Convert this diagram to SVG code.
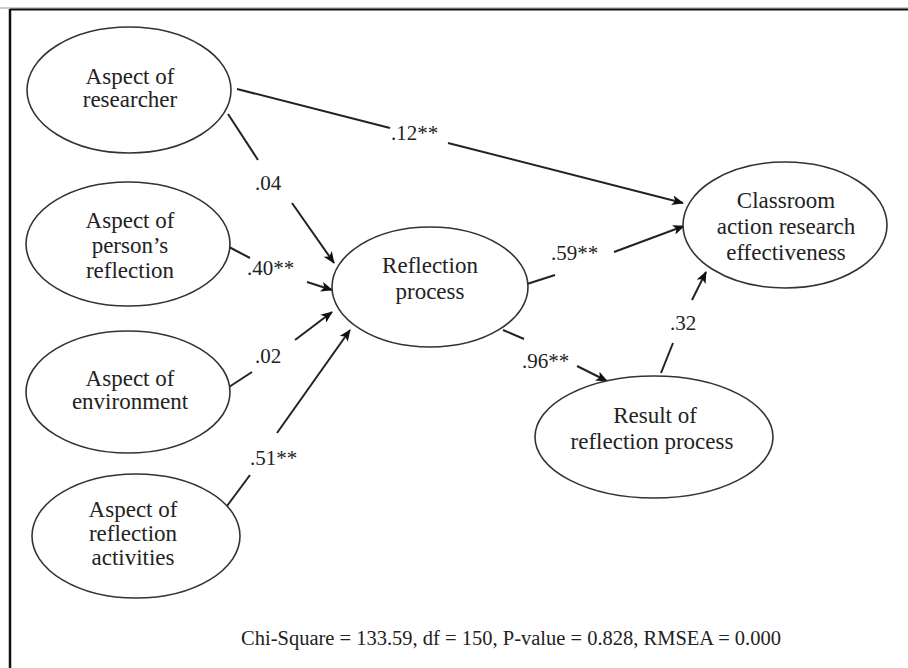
<svg xmlns="http://www.w3.org/2000/svg" width="908" height="668" viewBox="0 0 908 668">
<style>
.node ellipse{fill:#fff;stroke:#333;stroke-width:1.6}
.nt{font-family:"Liberation Serif","Times New Roman",serif;font-size:23px;fill:#222;text-anchor:middle}
.lb{font-family:"Liberation Serif","Times New Roman",serif;font-size:21px;fill:#222}
.c line{stroke:#222;stroke-width:2}
.arr{marker-end:url(#ah)}
</style>
<defs>
<marker id="ah" viewBox="0 0 12 10" refX="11" refY="5" markerWidth="12" markerHeight="10" markerUnits="userSpaceOnUse" orient="auto">
<path d="M0,0 L12,5 L0,10 L3,5 Z" fill="#111"/>
</marker>
</defs>
<rect x="0" y="0" width="908" height="668" fill="#fff"/>
<line x1="0" y1="8" x2="908" y2="8" stroke="#999" stroke-width="1"/>
<line x1="10" y1="9.5" x2="908" y2="9.5" stroke="#111" stroke-width="2"/>
<line x1="10" y1="9" x2="10" y2="668" stroke="#111" stroke-width="2.5"/>

<g class="c" id="connectors">
<line x1="237" y1="89" x2="390" y2="128"/>
<line class="arr" x1="448" y1="143" x2="683" y2="203"/>
<line x1="228" y1="114" x2="258" y2="160"/>
<line class="arr" x1="292" y1="203" x2="334" y2="263"/>
<line x1="229" y1="247" x2="250" y2="258"/>
<line class="arr" x1="307" y1="282" x2="332" y2="290"/>
<line x1="229" y1="387" x2="252" y2="372"/>
<line class="arr" x1="295" y1="340" x2="332" y2="312"/>
<line x1="227" y1="506" x2="250" y2="475"/>
<line class="arr" x1="277" y1="433" x2="350" y2="330"/>
<line x1="527" y1="284" x2="555" y2="275"/>
<line class="arr" x1="614" y1="252" x2="684" y2="226"/>
<line x1="503" y1="330" x2="524" y2="339"/>
<line class="arr" x1="577" y1="366" x2="607" y2="381"/>
<line x1="661" y1="373" x2="673" y2="343"/>
<line class="arr" x1="692" y1="300" x2="706" y2="272"/>
</g>

<g id="labels">
<text class="lb" x="255" y="190">.04</text>
<text class="lb" x="391" y="140">.12**</text>
<text class="lb" x="247" y="275">.40**</text>
<text class="lb" x="255" y="363">.02</text>
<text class="lb" x="250" y="465">.51**</text>
<text class="lb" x="551" y="260">.59**</text>
<text class="lb" x="522" y="368">.96**</text>
<text class="lb" x="670" y="330">.32</text>
</g>

<g class="node" id="n-researcher">
<ellipse cx="129" cy="90" rx="102" ry="63"/>
<text class="nt" x="130" y="84">Aspect of</text>
<text class="nt" x="130" y="107">researcher</text>
</g>
<g class="node" id="n-person">
<ellipse cx="128" cy="244" rx="102" ry="62"/>
<text class="nt" x="130" y="228">Aspect of</text>
<text class="nt" x="130" y="253">person’s</text>
<text class="nt" x="130" y="278">reflection</text>
</g>
<g class="node" id="n-environment">
<ellipse cx="128" cy="392" rx="102" ry="61"/>
<text class="nt" x="130" y="386">Aspect of</text>
<text class="nt" x="130" y="409">environment</text>
</g>
<g class="node" id="n-activities">
<ellipse cx="136" cy="536" rx="104" ry="62"/>
<text class="nt" x="133" y="517">Aspect of</text>
<text class="nt" x="133" y="541">reflection</text>
<text class="nt" x="133" y="565">activities</text>
</g>
<g class="node" id="n-reflection">
<ellipse cx="430" cy="287" rx="98" ry="60"/>
<text class="nt" x="430" y="273">Reflection</text>
<text class="nt" x="430" y="299">process</text>
</g>
<g class="node" id="n-classroom">
<ellipse cx="785" cy="225" rx="102" ry="63"/>
<text class="nt" x="786" y="208">Classroom</text>
<text class="nt" x="786" y="234">action research</text>
<text class="nt" x="786" y="260">effectiveness</text>
</g>
<g class="node" id="n-result">
<ellipse cx="654" cy="437" rx="119" ry="61"/>
<text class="nt" x="655" y="423">Result of</text>
<text class="nt" x="652" y="449">reflection process</text>
</g>

<text id="fit" x="511" y="645" font-family="'Liberation Serif','Times New Roman',serif" font-size="20.5" fill="#222" text-anchor="middle">Chi-Square = 133.59, df = 150, P-value = 0.828, RMSEA = 0.000</text>
</svg>
